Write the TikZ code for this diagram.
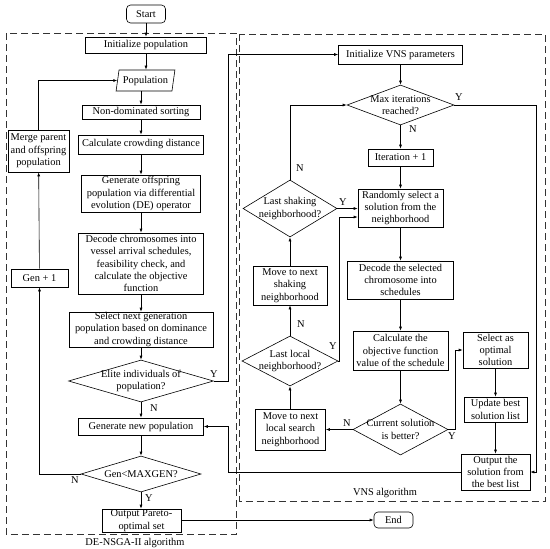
\documentclass[tikz,border=0pt]{standalone}
\usepackage{fontspec}
\setmainfont{Liberation Serif}
\usetikzlibrary{shapes.geometric,arrows.meta}
\begin{document}
\begin{tikzpicture}[x=1pt,y=-1pt]
\tikzset{
 base/.style={font=\fontsize{10.4}{12.4}\selectfont},
 box/.style={base, draw, line width=0.6pt, rectangle, align=center, inner sep=0pt},
 term/.style={box, rounded corners=4pt},
 dia/.style={draw, line width=0.6pt, diamond, inner sep=0pt},
 dtxt/.style={base, align=center, inner sep=0pt},
 arr/.style={line width=0.6pt, -{Latex[length=4pt,width=3pt]}},
 yn/.style={base, inner sep=0pt},
 frame/.style={line width=0.6pt, dash pattern=on 7pt off 4pt, black!80},
}
\useasboundingbox (0,0) rectangle (550,549);
\fill[white] (0,0) rectangle (550,549);

% frames
\draw[frame] (6,33) rectangle (236.5,534);
\draw[frame] (239.5,34) rectangle (545,501);
\node[base] (lblde) at (135,543) {DE-NSGA-II algorithm};
\node[base] (lblvns) at (385,493) {VNS algorithm};

% left column
\node[term, minimum width=39, minimum height=18] (start) at (146,14) {Start};
\node[box, minimum width=121, minimum height=16] (initpop) at (146,45) {Initialize population};
\node[base, draw, line width=0.6pt, trapezium, trapezium left angle=75, trapezium right angle=105, trapezium stretches=true, minimum width=59, minimum height=21, inner sep=0pt] (pop) at (145.5,80.5) {Population};
\node[box, minimum width=118, minimum height=14] (nds) at (141,112) {Non-dominated sorting};
\node[box, minimum width=125, minimum height=19] (crowd) at (141,144.5) {Calculate crowding distance};
\node[box, minimum width=119, minimum height=37] (genoff) at (141,193.5) {Generate offspring\\population via differential\\evolution (DE) operator};
\node[box, minimum width=125, minimum height=61] (decode) at (141,263.5) {Decode chromosomes into\\vessel arrival schedules,\\feasibility check, and\\calculate the objective\\function};
\node[box, minimum width=144, minimum height=35] (select) at (141,329.5) {Select next generation\\population based on dominance\\and crowding distance};
\node[dia, minimum width=145, minimum height=42, label={[dtxt]center:Elite individuals of\\population?}] (elite) at (141,381) {};
\node[box, minimum width=125, minimum height=17] (genew) at (141,426.5) {Generate new population};
\node[dia, minimum width=120, minimum height=36, label={[dtxt]center:Gen<MAXGEN?}] (gencheck) at (141,474) {};
\node[box, minimum width=79, minimum height=23] (outpar) at (141.5,520.5) {Output Pareto-\\optimal set};
\node[box, minimum width=61, minimum height=42] (merge) at (38.5,151) {Merge parent\\and offspring\\population};
\node[box, minimum width=57, minimum height=18] (gen1) at (39.5,278) {Gen + 1};

% right part
\node[box, minimum width=124, minimum height=19] (initvns) at (400.5,54.5) {Initialize VNS parameters};
\node[dia, minimum width=107, minimum height=40, label={[dtxt]center:Max iterations\\reached?}] (maxit) at (400.5,105) {};
\node[box, minimum width=65, minimum height=17] (iter) at (400.5,157.5) {Iteration + 1};
\node[box, minimum width=85, minimum height=38] (randsel) at (400.5,208) {Randomly select a\\solution from the\\neighborhood};
\node[box, minimum width=106, minimum height=38] (decsel) at (400.5,280) {Decode the selected\\chromosome into\\schedules};
\node[box, minimum width=95, minimum height=39] (calcobj) at (400.5,350.5) {Calculate the\\objective function\\value of the schedule};
\node[dia, minimum width=95, minimum height=51, label={[dtxt]center:Current solution\\is better?}] (cursol) at (400.5,429.5) {};
\node[dia, minimum width=94, minimum height=57, label={[dtxt]center:Last shaking\\neighborhood?}] (lastshake) at (290,208.5) {};
\node[box, minimum width=74, minimum height=39] (moveshake) at (290,285.5) {Move to next\\shaking\\neighborhood};
\node[dia, minimum width=96, minimum height=50, label={[dtxt]center:Last local\\neighborhood?}] (lastlocal) at (290,361) {};
\node[box, minimum width=70, minimum height=41] (movelocal) at (290.5,429.5) {Move to next\\local search\\neighborhood};
\node[box, minimum width=65, minimum height=36] (selopt) at (495.5,350) {Select as\\optimal\\solution};
\node[box, minimum width=63, minimum height=25] (update) at (495.5,409.5) {Update best\\solution list};
\node[box, minimum width=69, minimum height=36] (outsol) at (495.5,472) {Output the\\solution from\\the best list};
\node[term, minimum width=39, minimum height=16] (end) at (393.5,520) {End};

% helper coordinates
\coordinate (c1) at (228,0);
\coordinate (c3) at (339,217);
\coordinate (c4) at (455,350);
\coordinate (c5) at (536,472);

% left connectors
\draw[arr] (start) -- (initpop);
\draw[arr] (initpop.south) -- (initpop.south |- pop.north);
\draw[arr] (nds.north |- pop.south) -- (nds.north);
\draw[arr] (nds) -- (crowd);
\draw[arr] (crowd) -- (genoff);
\draw[arr] (genoff) -- (decode);
\draw[arr] (decode) -- (select);
\draw[arr] (select) -- (elite);
\draw[arr] (elite) -- (genew);
\draw[arr] (genew) -- (gencheck);
\draw[arr] (gencheck) -- (outpar.north -| gencheck.south);
\draw[arr] (gencheck.west) -| (gen1.south);
\draw[arr] (gen1) -- (merge);
\draw[arr] (merge.north) |- (pop.west);
\draw[arr] (elite.east) -- (elite.east -| c1) -- (c1 |- initvns.west) -- (initvns.west);
\draw[arr] (outsol.west) -- (outsol.west -| c1) -- (c1 |- genew.east) -- (genew.east);
\draw[arr] (outpar.east |- end.west) -- (end.west);

% right connectors
\draw[arr] (initvns) -- (maxit);
\draw[arr] (maxit) -- (iter);
\draw[arr] (iter) -- (randsel);
\draw[arr] (randsel) -- (decsel);
\draw[arr] (decsel) -- (calcobj);
\draw[arr] (calcobj) -- (cursol);
\draw[arr] (cursol.west) -- (cursol.west -| movelocal.east);
\draw[arr] (movelocal.north -| lastlocal.south) -- (lastlocal.south);
\draw[arr] (lastlocal) -- (moveshake);
\draw[arr] (moveshake) -- (lastshake);
\draw[arr] (lastshake.north) |- (maxit.west);
\draw[arr] (lastshake.east) -- (lastshake.east -| randsel.west);
\draw[arr] (lastlocal.east) -| (c3) -- (c3 -| randsel.west);
\draw[arr] (cursol.east) -| (c4) -- (c4 -| selopt.west);
\draw[arr] (selopt) -- (update);
\draw[arr] (update) -- (outsol);
\draw[arr] (maxit.east) -| (c5) -- (outsol.east);

% Y / N labels
\node[yn] (y1) at (214,374) {Y};
\node[yn] (n1) at (154,408) {N};
\node[yn] (n2) at (75,480) {N};
\node[yn] (y2) at (149,498) {Y};
\node[yn] (y3) at (459,97) {Y};
\node[yn] (n3) at (413,129) {N};
\node[yn] (n4) at (300,168) {N};
\node[yn] (y4) at (343,202) {Y};
\node[yn] (n5) at (301,324) {N};
\node[yn] (y5) at (333,346) {Y};
\node[yn] (n6) at (347,423) {N};
\node[yn] (y6) at (452,436) {Y};
\end{tikzpicture}
\end{document}
